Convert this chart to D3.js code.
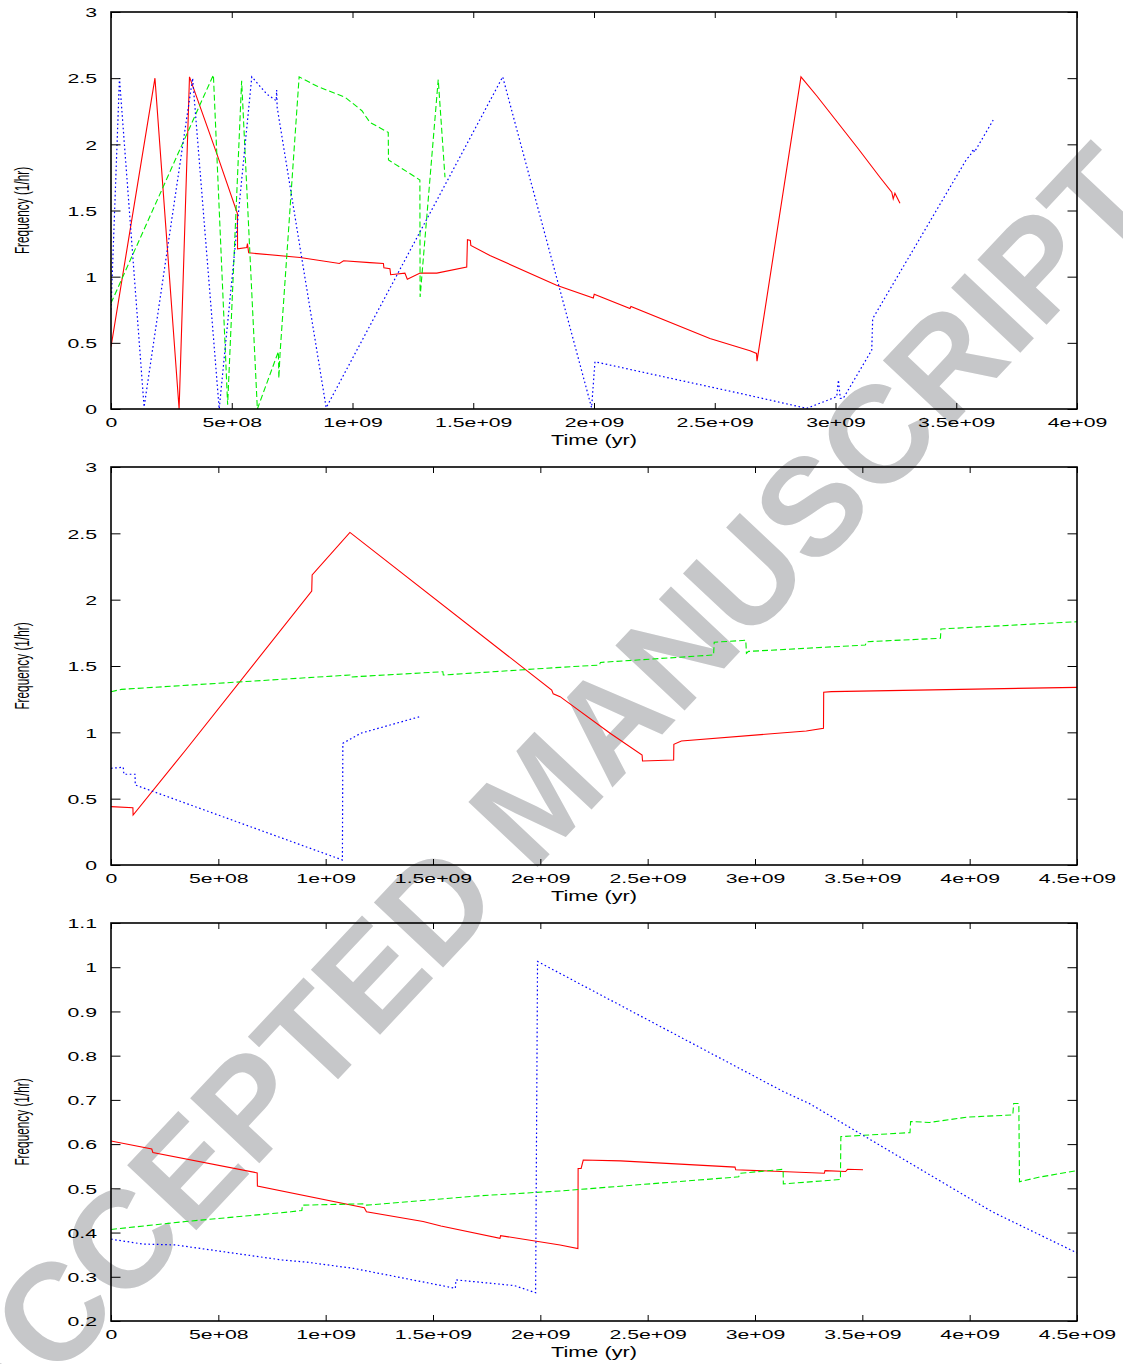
<!DOCTYPE html>
<html><head><meta charset="utf-8">
<script src="https://cdn.jsdelivr.net/npm/d3@7"></script>
<style>html,body{margin:0;padding:0;background:#fff}</style>
</head><body>
<svg id="c" width="1123" height="1364"></svg>
<script>
// ---------- data ----------
const xTicksA = [0, 5e8, 1e9, 1.5e9, 2e9, 2.5e9, 3e9, 3.5e9, 4e9];
const xTickLabelsA = ["0","5e+08","1e+09","1.5e+09","2e+09","2.5e+09","3e+09","3.5e+09","4e+09"];
const xTicksB = [0, 5e8, 1e9, 1.5e9, 2e9, 2.5e9, 3e9, 3.5e9, 4e9, 4.5e9];
const xTickLabelsB = ["0","5e+08","1e+09","1.5e+09","2e+09","2.5e+09","3e+09","3.5e+09","4e+09","4.5e+09"];
const yTicksA = [0, 0.5, 1, 1.5, 2, 2.5, 3];
const yTickLabelsA = ["0","0.5","1","1.5","2","2.5","3"];
const yTicksC = [0.2, 0.3, 0.4, 0.5, 0.6, 0.7, 0.8, 0.9, 1.0, 1.1];
const yTickLabelsC = ["0.2","0.3","0.4","0.5","0.6","0.7","0.8","0.9","1","1.1"];
const xTitle = "Time (yr)";
const yTitle = "Frequency (1/hr)";
const watermark = "ACCEPTED MANUSCRIPT";

// panel 1
const p1Red = [[0,0.47],[0.182e9,2.5],[0.282e9,0],[0.325e9,2.51],[0.438e9,1.93],[0.5235e9,1.476],[0.524e9,1.21],[0.562e9,1.22],[0.565e9,1.25],[0.57e9,1.18],[0.783e9,1.145],[0.946e9,1.10],[0.963e9,1.12],[1.072e9,1.106],[1.128e9,1.10],[1.13e9,1.067],[1.155e9,1.06],[1.158e9,1.015],[1.217e9,1.027],[1.227e9,0.98],[1.28e9,1.027],[1.349e9,1.027],[1.473e9,1.073],[1.476e9,1.279],[1.488e9,1.274],[1.49e9,1.236],[1.569e9,1.16],[1.845e9,0.935],[1.997e9,0.839],[2.001e9,0.867],[2.149e9,0.759],[2.153e9,0.775],[2.48e9,0.533],[2.646e9,0.44],[2.673e9,0.42],[2.675e9,0.362],[2.857e9,2.51],[2.922e9,2.367],[3.095e9,1.965],[3.184e9,1.751],[3.233e9,1.638],[3.239e9,1.588],[3.246e9,1.63],[3.267e9,1.555]];
const p1Green = [[0,0.8],[0.424e9,2.525],[0.483e9,0.033],[0.541e9,2.48],[0.606e9,0],[0.693e9,0.434],[0.695e9,0.233],[0.70e9,0.42],[0.779e9,2.51],[0.852e9,2.44],[0.97e9,2.355],[1.039e9,2.254],[1.072e9,2.166],[1.148e9,2.09],[1.149e9,1.882],[1.279e9,1.731],[1.28e9,0.847],[1.355e9,2.49],[1.383e9,1.751]];
const p1Blue = [[0,0.75],[0.035e9,2.5],[0.137e9,0.015],[0.338e9,2.5],[0.448e9,0],[0.583e9,2.51],[0.645e9,2.38],[0.684e9,2.33],[0.686e9,2.41],[0.688e9,2.28],[0.891e9,0.01],[1.622e9,2.51],[1.663e9,2.23],[1.99e9,0.01],[2.004e9,0.357],[2.287e9,0.244],[2.605e9,0.118],[2.881e9,0.005],[3.005e9,0.093],[3.012e9,0.219],[3.02e9,0.08],[3.032e9,0.08],[3.15e9,0.445],[3.154e9,0.683],[3.543e9,1.889],[3.557e9,1.914],[3.571e9,1.965],[3.575e9,1.94],[3.653e9,2.183]];

// panel 2
const p2Red = [[0,0.44],[0.102e9,0.432],[0.103e9,0.377],[0.348e9,0.867],[0.935e9,2.065],[0.937e9,2.186],[1.113e9,2.507],[2.053e9,1.319],[2.06e9,1.29],[2.092e9,1.269],[2.325e9,0.993],[2.474e9,0.829],[2.476e9,0.784],[2.621e9,0.791],[2.622e9,0.91],[2.657e9,0.935],[3.239e9,1.01],[3.319e9,1.03],[3.32e9,1.302],[3.356e9,1.307],[4.5e9,1.339]];
const p2Green = [[0,1.306],[0.049e9,1.324],[1.113e9,1.432],[1.115e9,1.417],[1.546e9,1.457],[1.548e9,1.432],[2.092e9,1.49],[2.275e9,1.507],[2.28e9,1.527],[2.807e9,1.583],[2.81e9,1.679],[2.957e9,1.694],[2.96e9,1.596],[2.97e9,1.61],[3.514e9,1.658],[3.52e9,1.683],[3.864e9,1.709],[3.866e9,1.779],[4.5e9,1.834]];
const p2Blue = [[0,0.729],[0.057e9,0.737],[0.06e9,0.684],[0.112e9,0.684],[0.113e9,0.603],[1.078e9,0.038],[1.08e9,0.917],[1.163e9,0.993],[1.438e9,1.118]];

// panel 3
const p3Red = [[0,0.607],[0.19e9,0.589],[0.195e9,0.581],[0.681e9,0.535],[0.682e9,0.505],[1.18e9,0.456],[1.19e9,0.447],[1.454e9,0.425],[1.537e9,0.415],[1.812e9,0.387],[1.815e9,0.393],[2.092e9,0.372],[2.175e9,0.364],[2.176e9,0.545],[2.19e9,0.545],[2.2e9,0.564],[2.374e9,0.562],[2.907e9,0.548],[2.91e9,0.542],[3.323e9,0.534],[3.326e9,0.54],[3.422e9,0.538],[3.431e9,0.543],[3.503e9,0.542]];
const p3Green = [[0,0.407],[0.348e9,0.425],[0.839e9,0.447],[0.889e9,0.45],[0.892e9,0.462],[1.18e9,0.465],[1.19e9,0.462],[1.712e9,0.483],[2.092e9,0.494],[2.924e9,0.526],[2.93e9,0.534],[3.131e9,0.543],[3.132e9,0.51],[3.398e9,0.52],[3.4e9,0.617],[3.722e9,0.626],[3.725e9,0.651],[3.813e9,0.649],[3.988e9,0.661],[4.201e9,0.666],[4.205e9,0.692],[4.229e9,0.692],[4.232e9,0.515],[4.321e9,0.525],[4.5e9,0.54]];
const p3Blue = [[0,0.385],[0.149e9,0.374],[0.3e9,0.372],[0.797e9,0.338],[0.913e9,0.333],[1.13e9,0.319],[1.604e9,0.274],[1.607e9,0.293],[1.879e9,0.28],[1.978e9,0.264],[1.987e9,1.013],[2.092e9,0.986],[3.131e9,0.719],[3.256e9,0.691],[3.489e9,0.624],[4.105e9,0.447],[4.5e9,0.354]];

// ---------- drawing ----------
const svg = d3.select("#c");
const L = 111, R = 1077;
const FONT = "'Liberation Sans', Arial, Helvetica, sans-serif";

// watermark (beneath)
svg.append("text")
  .attr("transform", "translate(537,795) rotate(-46.8)")
  .attr("text-anchor", "middle")
  .attr("dy", "0.36em")
  .attr("font-family", FONT)
  .attr("font-weight", "bold")
  .attr("font-size", 138)
  .attr("fill", "#c6c7c9")
  .text(watermark);

const panels = [
  {top: 12, bottom: 409, xd: [0, 4e9], yd: [0, 3], xt: xTicksA, xl: xTickLabelsA, yt: yTicksA, yl: yTickLabelsA,
   series: [p1Red, p1Green, p1Blue]},
  {top: 467, bottom: 865, xd: [0, 4.5e9], yd: [0, 3], xt: xTicksB, xl: xTickLabelsB, yt: yTicksA, yl: yTickLabelsA,
   series: [p2Red, p2Green, p2Blue]},
  {top: 923, bottom: 1321, xd: [0, 4.5e9], yd: [0.2, 1.1], xt: xTicksB, xl: xTickLabelsB, yt: yTicksC, yl: yTickLabelsC,
   series: [p3Red, p3Green, p3Blue]}
];
const styles = [
  {stroke: "#ff0000", dash: null, w: 1.1},
  {stroke: "#00ee00", dash: "6,3", w: 1.1},
  {stroke: "#0000ff", dash: "1.6,2.6", w: 1.2}
];

panels.forEach((p, pi) => {
  const x = d3.scaleLinear().domain(p.xd).range([L, R]);
  const y = d3.scaleLinear().domain(p.yd).range([p.bottom, p.top]);
  const g = svg.append("g");

  const cid = "clip" + pi;
  svg.append("clipPath").attr("id", cid).append("rect")
    .attr("x", L).attr("y", p.top - 1).attr("width", R - L).attr("height", p.bottom - p.top + 2);

  // lines
  const line = d3.line().x(d => x(d[0])).y(d => y(d[1]));
  p.series.forEach((s, si) => {
    g.append("path").datum(s)
      .attr("clip-path", `url(#${cid})`)
      .attr("d", line)
      .attr("fill", "none")
      .attr("stroke", styles[si].stroke)
      .attr("stroke-width", styles[si].w)
      .attr("stroke-dasharray", styles[si].dash)
      .attr("stroke-linejoin", "miter");
  });

  // axes
  const ax = (gen, tx, ty) => {
    const a = g.append("g").attr("transform", `translate(${tx},${ty})`).call(gen);
    a.select(".domain").remove();
    a.selectAll(".tick line").attr("stroke", "#000").attr("stroke-width", 1);
    a.attr("font-family", FONT).attr("font-size", 12.5);
    return a;
  };
  const bottom = ax(d3.axisBottom(x).tickValues(p.xt).tickSize(-6).tickFormat((d, i) => p.xl[i]), 0, p.bottom);
  bottom.selectAll(".tick text").attr("y", null).attr("dy", null)
    .attr("fill", "#000").attr("transform", "translate(0,18) scale(1.7,1)");
  ax(d3.axisTop(x).tickValues(p.xt).tickSize(-6).tickFormat(""), 0, p.top);
  const left = ax(d3.axisLeft(y).tickValues(p.yt).tickSize(-9.5).tickFormat((d, i) => p.yl[i]), L, 0);
  left.selectAll(".tick text").attr("x", null).attr("dy", null)
    .attr("fill", "#000").attr("transform", "translate(-14,4.7) scale(1.7,1)");
  ax(d3.axisRight(y).tickValues(p.yt).tickSize(-9.5).tickFormat(""), R, 0);

  // frame
  g.append("rect").attr("x", L).attr("y", p.top).attr("width", R - L).attr("height", p.bottom - p.top)
    .attr("fill", "none").attr("stroke", "#000").attr("stroke-width", 1.6);

  // titles
  g.append("text")
    .attr("transform", `translate(${(L + R) / 2},${p.bottom + 36}) scale(1.55,1)`)
    .attr("text-anchor", "middle").attr("font-family", FONT).attr("font-size", 14).attr("fill", "#000")
    .text(xTitle);
  g.append("text")
    .attr("transform", `translate(28.5,${(p.top + p.bottom) / 2}) rotate(-90) scale(0.59,1)`)
    .attr("text-anchor", "middle").attr("font-family", FONT).attr("font-size", 20).attr("fill", "#000")
    .text(yTitle);
});
</script>
</body></html>
